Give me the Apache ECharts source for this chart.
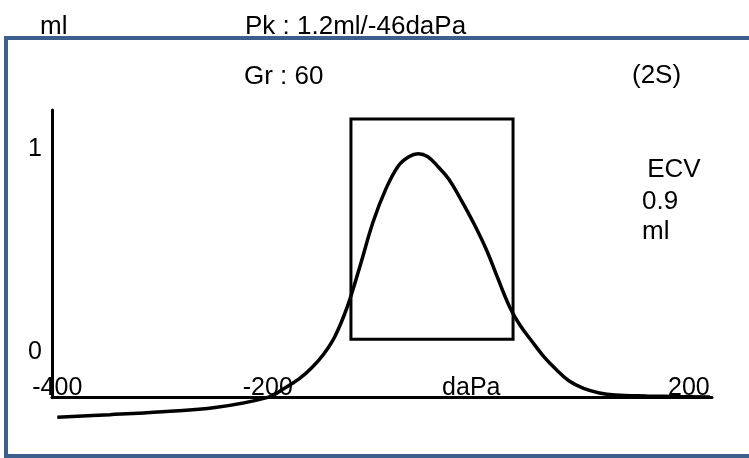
<!DOCTYPE html>
<html>
<head>
<meta charset="utf-8">
<script src="https://cdn.jsdelivr.net/npm/echarts@6/dist/echarts.min.js"></script>
<style>
html,body{margin:0;padding:0;background:#fff;}
#c{width:749px;height:458px;}
</style>
</head>
<body>
<div id="c"></div>
<script>
// Pressure (daPa) and compliance (ml)
const pressure = [-400, -350, -300, -250, -200, -185, -170, -158, -147, -136, -124, -112, -100, -88, -76, -66, -57, -48, -38, -28, -16, -4, 8, 18, 30, 40, 50, 62, 74, 86, 100, 115, 130, 160, 190, 220];
const compliance = [-0.32, -0.307, -0.292, -0.272, -0.222, -0.18, -0.13, -0.075, -0.01, 0.08, 0.23, 0.43, 0.64, 0.80, 0.915, 0.96, 0.975, 0.96, 0.91, 0.85, 0.745, 0.63, 0.50, 0.37, 0.22, 0.13, 0.06, -0.02, -0.085, -0.14, -0.178, -0.20, -0.21, -0.215, -0.218, -0.22];
const xTickValues = [-400, -200, 0, 200];
const xTickLabels = ['-400', '-200', 'daPa', '200'];
const yTickValues = [0, 1];
const yTickLabels = ['0', '1'];
const boxPressure = [-121, 33];
const boxCompliance = [0.064, 1.146];
const texts = {
  unit: 'ml',
  peak: 'Pk : 1.2ml/-46daPa',
  gradient: 'Gr : 60',
  mode: '(2S)',
  ecv: [' ECV', '0.9', 'ml']
};

const FONT = '"Liberation Sans", Arial, sans-serif';
const chart = echarts.init(document.getElementById('c'), null, {renderer: 'canvas'});

function txt(t, x, y, size, align) {
  return {
    type: 'text', x: x, y: y, z: 10,
    style: {text: t, fontSize: size, fontFamily: FONT, fill: '#000',
            align: align || 'left', verticalAlign: 'middle'}
  };
}

const option = {
  animation: false,
  backgroundColor: '#fff',
  grid: {left: 52, right: 37, top: 110, bottom: 61, containLabel: false},
  xAxis: {
    type: 'value', min: -405, max: 222,
    axisLine: {show: true, onZero: false, lineStyle: {color: '#000', width: 3}},
    axisTick: {show: false},
    splitLine: {show: false},
    axisLabel: {
      inside: true, margin: -4, color: '#000', fontSize: 25, fontFamily: FONT,
      customValues: xTickValues,
      formatter: v => {
        const i = xTickValues.indexOf(v);
        if (i < 0) return '';
        return v === 0 ? '{d|' + xTickLabels[i] + '}' : xTickLabels[i];
      },
      rich: {d: {fontSize: 25, fontFamily: FONT, color: '#000', padding: [0, 14, 0, 0]}}
    }
  },
  yAxis: {
    type: 'value', min: -0.22, max: 1.19,
    axisLine: {show: true, onZero: false, lineStyle: {color: '#000', width: 3}},
    axisTick: {show: false},
    splitLine: {show: false},
    axisLabel: {
      margin: 10, color: '#000', fontSize: 25, fontFamily: FONT,
      customValues: yTickValues,
      formatter: v => { const i = yTickValues.indexOf(v); return i >= 0 ? yTickLabels[i] : ''; }
    }
  },
  series: [{
    type: 'line',
    data: pressure.map((p, i) => [p, compliance[i]]),
    smooth: 0.4,
    symbol: 'none',
    clip: false,
    lineStyle: {color: '#000', width: 3.5},
    z: 5,
    markArea: {
      silent: true,
      itemStyle: {color: 'rgba(0,0,0,0)', borderColor: '#000', borderWidth: 3},
      data: [[{xAxis: boxPressure[0], yAxis: boxCompliance[1]}, {xAxis: boxPressure[1], yAxis: boxCompliance[0]}]]
    }
  }],
  graphic: [
    {type: 'rect', z: 1, shape: {x: 6, y: 38, width: 800, height: 418},
     style: {fill: 'none', stroke: '#3D5F8C', lineWidth: 4}},
    txt(texts.unit, 40, 27, 26),
    txt(texts.peak, 245, 27, 26),
    txt(texts.gradient, 244, 77, 26),
    txt(texts.mode, 632, 76, 26),
    txt(texts.ecv[0], 640, 170, 26),
    txt(texts.ecv[1], 642, 202, 26),
    txt(texts.ecv[2], 642, 232, 26)
  ]
};
chart.setOption(option);
</script>
</body>
</html>
